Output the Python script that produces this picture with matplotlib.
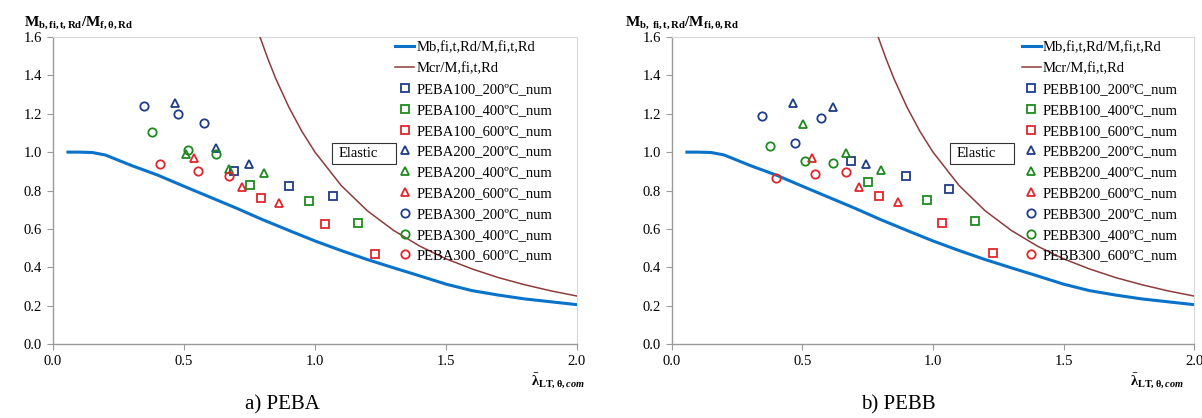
import matplotlib
matplotlib.use("Agg")
import matplotlib.pyplot as plt
from matplotlib.patches import Rectangle

plt.rcParams['font.family'] = ['Liberation Serif', 'DejaVu Serif']
plt.rcParams['mathtext.fontset'] = 'custom'
plt.rcParams['mathtext.rm'] = 'Liberation Serif'
plt.rcParams['mathtext.it'] = 'Liberation Serif:italic'
plt.rcParams['mathtext.bf'] = 'Liberation Serif:bold'
plt.rcParams['mathtext.bfit'] = 'Liberation Serif:bold:italic'

# ---- design curves ----
lam_b = [0.057, 0.10, 0.15, 0.20, 0.30, 0.40, 0.50, 0.60, 0.70, 0.80, 0.90, 1.00,
         1.10, 1.20, 1.30, 1.40, 1.50, 1.60, 1.70, 1.80, 1.90, 2.00]
mb = [1.000, 1.000, 0.998, 0.985, 0.930, 0.880, 0.822, 0.765, 0.708, 0.648, 0.592, 0.537,
      0.487, 0.440, 0.397, 0.355, 0.312, 0.278, 0.255, 0.235, 0.220, 0.205]
lam_cr = [0.79, 0.82, 0.85, 0.90, 0.95, 1.00, 1.10, 1.20, 1.30, 1.40, 1.50, 1.60,
          1.70, 1.80, 1.90, 2.00]
mcr = [1.600, 1.487, 1.384, 1.235, 1.108, 1.000, 0.826, 0.694, 0.592, 0.510, 0.444,
       0.391, 0.346, 0.309, 0.277, 0.250]

# ---- numerical results, panel a) PEBA ----
a_labels = ['PEBA100_200ºC_num', 'PEBA100_400ºC_num', 'PEBA100_600ºC_num',
            'PEBA200_200ºC_num', 'PEBA200_400ºC_num', 'PEBA200_600ºC_num',
            'PEBA300_200ºC_num', 'PEBA300_400ºC_num', 'PEBA300_600ºC_num']
a_x = [[0.690, 0.899, 1.067], [0.752, 0.978, 1.163], [0.794, 1.037, 1.230],
       [0.466, 0.621, 0.748], [0.506, 0.672, 0.807], [0.540, 0.722, 0.864],
       [0.349, 0.477, 0.577], [0.379, 0.515, 0.622], [0.407, 0.554, 0.673]]
a_y = [[0.900, 0.825, 0.772], [0.827, 0.747, 0.632], [0.759, 0.623, 0.469],
       [1.257, 1.020, 0.936], [0.990, 0.910, 0.889], [0.970, 0.819, 0.736],
       [1.240, 1.200, 1.150], [1.103, 1.010, 0.990], [0.938, 0.900, 0.875]]

# ---- numerical results, panel b) PEBB ----
b_labels = ['PEBB100_200ºC_num', 'PEBB100_400ºC_num', 'PEBB100_600ºC_num',
            'PEBB200_200ºC_num', 'PEBB200_400ºC_num', 'PEBB200_600ºC_num',
            'PEBB300_200ºC_num', 'PEBB300_400ºC_num', 'PEBB300_600ºC_num']
b_x = [[0.684, 0.897, 1.063], [0.750, 0.978, 1.160], [0.793, 1.033, 1.231],
       [0.462, 0.617, 0.742], [0.502, 0.668, 0.802], [0.536, 0.718, 0.864],
       [0.344, 0.473, 0.572], [0.374, 0.509, 0.617], [0.399, 0.549, 0.668]]
b_y = [[0.956, 0.873, 0.809], [0.842, 0.750, 0.640], [0.770, 0.629, 0.475],
       [1.257, 1.236, 0.938], [1.146, 0.998, 0.906], [0.970, 0.819, 0.740],
       [1.190, 1.050, 1.180], [1.030, 0.956, 0.941], [0.863, 0.885, 0.898]]

line_labels = ['Mb,fi,t,Rd/M,fi,t,Rd', 'Mcr/M,fi,t,Rd']
xticks = [0.0, 0.5, 1.0, 1.5, 2.0]
yticks = [0.0, 0.2, 0.4, 0.6, 0.8, 1.0, 1.2, 1.4, 1.6]

blue_c, green_c, red_c = '#1F3C88', '#1E8A1E', '#E0262B'
series_colors = [blue_c, green_c, red_c] * 3
series_markers = ['s'] * 3 + ['^'] * 3 + ['o'] * 3

W, H = 1202, 418
fig = plt.figure(figsize=(W / 100, H / 100), dpi=100)


def panel(left_px, right_px, labels, xs, ys, ylabel, yl_x, caption, cap_x, xl_x, leg_x):
    ax = fig.add_axes([left_px / W, (H - 344) / H, (right_px - left_px) / W, 307 / H])
    ax.plot(lam_b, mb, color='#0A72C8', lw=2.2, label=line_labels[0], zorder=3)
    ax.plot(lam_cr, mcr, color='#8E3B3B', lw=1.1, label=line_labels[1], zorder=3)
    for lab, x, y, c, m in zip(labels, xs, ys, series_colors, series_markers):
        ms = 5.5 if m == '^' else 6
        ax.plot(x, y, ls='none', marker=m, ms=ms, mfc='none', mec=c, mew=1.3,
                label=lab, zorder=4)
    ax.set_xlim(0, 2.0)
    ax.set_ylim(0, 1.6)
    ax.set_xticks(xticks)
    ax.set_yticks(yticks)
    ax.set_xticklabels(['%.1f' % v for v in xticks])
    ax.set_yticklabels(['%.1f' % v for v in yticks])
    ax.tick_params(axis='both', direction='out', length=4, width=0.8, color='#9a9a9a',
                   labelsize=10.5, pad=4)
    for s in ['left', 'bottom']:
        ax.spines[s].set_color('#9a9a9a')
        ax.spines[s].set_linewidth(1.0)
    for s in ['top', 'right']:
        ax.spines[s].set_color('#d8d8d8')
        ax.spines[s].set_linewidth(0.8)
    ax.legend(loc='upper left', bbox_to_anchor=(leg_x, 1.0), frameon=False,
              fontsize=10.5, handlelength=1.3, handletextpad=0.15,
              labelspacing=0.52, borderaxespad=0.2, borderpad=0.1)
    # Elastic box
    ax.add_patch(Rectangle((1.065, 0.94), 0.245, 0.11, fill=False, ec='#333333', lw=0.8,
                           zorder=5))
    ax.text(1.09, 0.995, 'Elastic', fontsize=10.5, va='center', ha='left', zorder=6)
    fig.text(yl_x / W, (H - 23) / H, ylabel, fontsize=11, ha='left', va='center')
    fig.text(xl_x / W, (H - 381) / H,
             r'$\mathbf{\bar{\lambda}_{LT,\theta,}}\mathbfit{_{com}}$',
             fontsize=10.5, ha='left', va='center')
    fig.text(cap_x / W, (H - 405) / H, caption, fontsize=15, ha='center', va='center')
    return ax


panel(53, 577, a_labels, a_x, a_y,
      r'$\mathbf{M_{b,fi,t,Rd}/M_{f,\theta,Rd}}$', 24, 'a) PEBA', 282, 531, 0.645)
panel(672, 1194, b_labels, b_x, b_y,
      r'$\mathbf{M_{b,\ fi,t,Rd}/M_{fi,\theta,Rd}}$', 625, 'b) PEBB', 898, 1130, 0.662)

fig.savefig('out.png', dpi=100)
